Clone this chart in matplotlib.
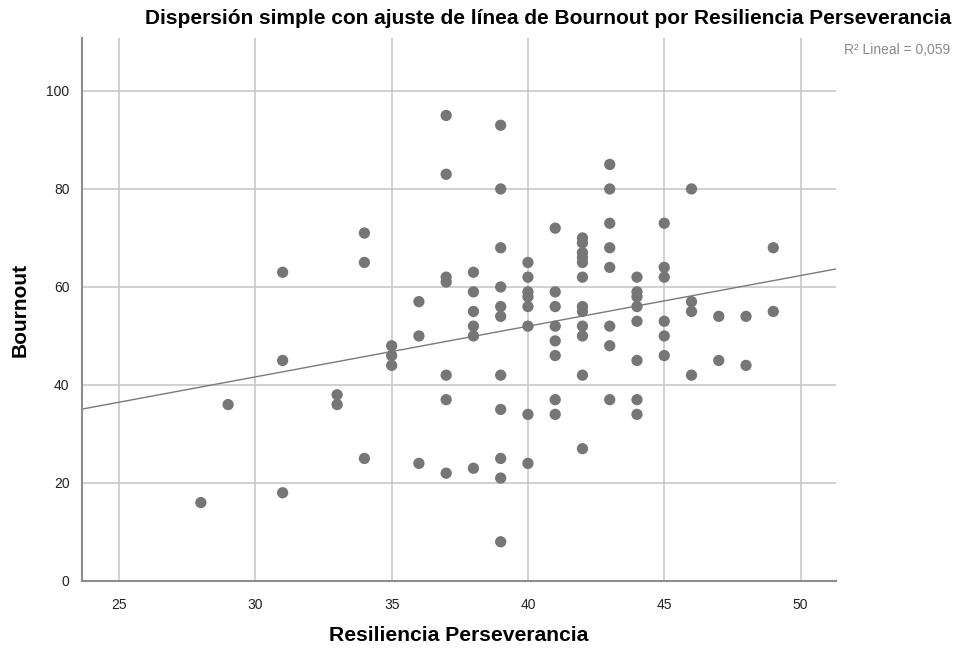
import numpy as np
import matplotlib
matplotlib.use("Agg")
import matplotlib.pyplot as plt
from matplotlib import rcParams

rcParams["font.family"] = ["Liberation Sans", "DejaVu Sans"]

# Data: one list of Bournout values per Resiliencia Perseverancia score
resiliencia = [28, 29, 31, 33, 34, 35, 36, 37, 38, 39,
               40, 41, 42, 43, 44, 45, 46, 47, 48, 49]
bournout = [
    [16],
    [36],
    [63, 45, 18],
    [38, 36],
    [71, 65, 25],
    [48, 46, 44],
    [57, 50, 24],
    [95, 83, 62, 61, 42, 37, 22],
    [63, 59, 55, 52, 50, 23],
    [93, 80, 68, 60, 56, 54, 42, 35, 25, 21, 8],
    [65, 62, 59, 58, 56, 52, 34, 24],
    [72, 59, 56, 52, 49, 46, 37, 34],
    [70, 69, 67, 66, 65, 62, 56, 55, 52, 50, 42, 27],
    [85, 80, 73, 68, 64, 52, 48, 37],
    [62, 59, 58, 56, 53, 45, 37, 34],
    [73, 64, 62, 53, 50, 46],
    [80, 57, 55, 42],
    [54, 45],
    [54, 44],
    [68, 55],
]
x_ticks = [25, 30, 35, 40, 45, 50]
y_ticks = [0, 20, 40, 60, 80, 100]
r2_label = "R\u00b2 Lineal = 0,059"

x = np.concatenate([[r] * len(b) for r, b in zip(resiliencia, bournout)])
y = np.concatenate(bournout)

fig = plt.figure(figsize=(9.67, 6.5), dpi=100)
ax = fig.add_axes([0.0848, 0.1062, 0.7797, 0.8353])

xlim = (23.64, 51.3)
ax.set_xlim(*xlim)
ax.set_ylim(0, 110.8)

ax.set_xticks(x_ticks)
ax.set_yticks(y_ticks)
ax.grid(True, color="#c8c8c8", lw=1.2, zorder=0)
ax.set_axisbelow(True)
ax.tick_params(length=0, labelsize=10, colors="#222222")
ax.tick_params(axis="x", pad=12)
ax.tick_params(axis="y", pad=9)

for s in ["top", "right"]:
    ax.spines[s].set_visible(False)
for s in ["left", "bottom"]:
    ax.spines[s].set_color("#8c8c8c")
    ax.spines[s].set_linewidth(1.5)

ax.scatter(x, y, s=66, color="#767676", edgecolors="none", zorder=3)

# linear fit
b1, b0 = np.polyfit(x, y, 1)
xx = np.array(xlim)
ax.plot(xx, b0 + b1 * xx, color="#7a7a7a", lw=1.0, zorder=2)

fig.text(0.567, 0.972, "Dispersión simple con ajuste de línea de Bournout por Resiliencia Perseverancia",
         ha="center", va="center", fontsize=15, fontweight="bold")
fig.text(0.021, 0.523, "Bournout", rotation=90, ha="center", va="center",
         fontsize=15, fontweight="bold")
fig.text(0.474, 0.022, "Resiliencia Perseverancia", ha="center", va="center",
         fontsize=15.2, fontweight="bold")
fig.text(0.983, 0.923, r2_label, ha="right", va="center", fontsize=10, color="#8a8a8a")

plt.savefig("out.png", dpi=100)
